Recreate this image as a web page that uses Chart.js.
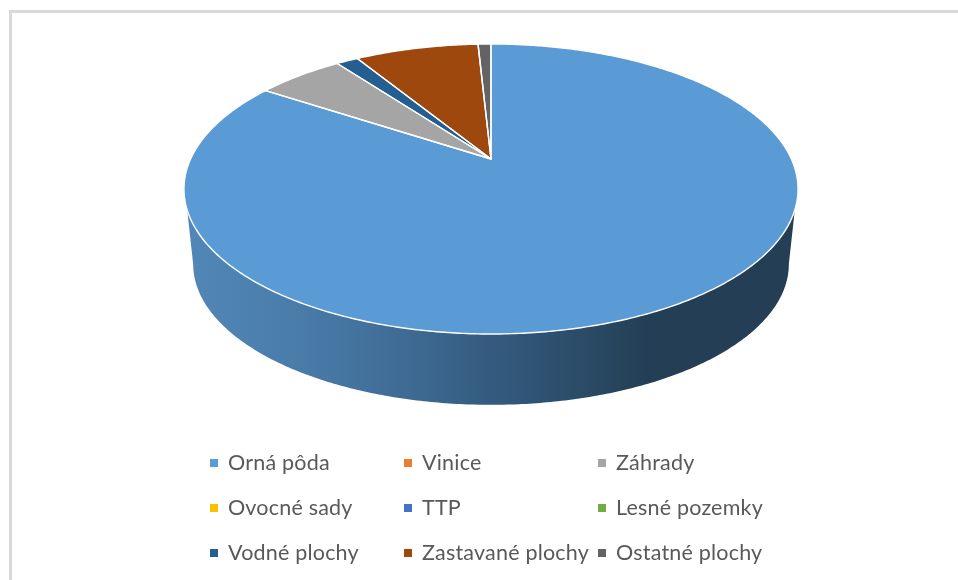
<!DOCTYPE html>
<html lang="sk">
<head>
<meta charset="utf-8">
<title>Štruktúra pozemkov</title>
<script src="https://cdn.jsdelivr.net/npm/chart.js@4"></script>
<style>
  html, body { margin: 0; padding: 0; background: #fff; overflow: hidden; }
  #stage { position: relative; width: 958px; height: 580px; }
  #stage canvas { position: absolute; left: 0; top: 0; }
  #frame { position: absolute; left: 9px; top: 10px; right: 0; bottom: 0;
           border-left: 3px solid #d9d9d9; border-top: 3px solid #d9d9d9; pointer-events: none; }
  #legend { filter: blur(0.4px); }
  .lg { position: absolute; font: 21.5px Lato, sans-serif; color: #595959; white-space: nowrap;
        line-height: 24px; letter-spacing: 0.2px; }
  .lg i { position: absolute; left: -18px; top: 9px; width: 8px; height: 8px; }
</style>
</head>
<body>
<div id="stage">
  <canvas id="c" width="958" height="580"></canvas>
  <div id="frame"></div>
  <div id="legend"></div>
</div>
<script>
const categories = ['Orná pôda', 'Vinice', 'Záhrady', 'Ovocné sady', 'TTP', 'Lesné pozemky', 'Vodné plochy', 'Zastavané plochy', 'Ostatné plochy'];
const shares = [84.25, 0, 5.57, 0, 0, 0, 1.41, 7.94, 0.83];
const colors = ['#5B9BD5', '#ED7D31', '#A5A5A5', '#FFC000', '#4472C4', '#70AD47', '#255E91', '#9E480E', '#636363'];
const legendX = [228, 422, 616];
const legendY = [462, 507, 552];

// perspective of the tilted disc: top face and bottom rim
const persp = -0.2069;
const topFace = { cx: 491, cy: 159, a: 300.4, b: 138.8 };
const bottomFace = { cx: 491, cy: 235, a: 291.4, b: 134.7 };

function project(face, u, v) {
  const w = 1 + persp * v;
  return [face.cx + face.a * u / w, face.cy + face.b * v / w];
}
function rimPath(ctx, face, from, to, move) {
  const n = Math.max(2, Math.ceil(Math.abs(to - from) / 0.01));
  for (let i = 0; i <= n; i++) {
    const t = from + (to - from) * i / n;
    const p = project(face, Math.cos(t), Math.sin(t));
    if (i === 0 && move) ctx.moveTo(p[0], p[1]); else ctx.lineTo(p[0], p[1]);
  }
}

const perspectivePie = {
  id: 'perspectivePie',
  beforeDatasetsDraw(chart) {
    const ctx = chart.ctx;
    const arcs = chart.getDatasetMeta(0).data;

    // side wall of the disc
    const g = ctx.createLinearGradient(186, 0, 796, 0);
    g.addColorStop(0, '#5187B8');
    g.addColorStop(0.18, '#4A7CAA');
    g.addColorStop(0.35, '#3F6C95');
    g.addColorStop(0.52, '#33597C');
    g.addColorStop(0.68, '#294862');
    g.addColorStop(0.76, '#233E55');
    g.addColorStop(1, '#233E55');
    ctx.save();
    ctx.beginPath();
    const aTop = Math.asin(0.3415), aBot = Math.asin(0.2069);
    rimPath(ctx, topFace, Math.PI - aTop, aTop, true);
    rimPath(ctx, bottomFace, aBot, Math.PI - aBot, false);
    ctx.closePath();
    ctx.fillStyle = g;
    ctx.fill();

    // top face slices, angles taken from the library's arc elements
    arcs.forEach((arc, i) => {
      if (arc.endAngle - arc.startAngle <= 0) return;
      ctx.beginPath();
      ctx.moveTo(topFace.cx, topFace.cy);
      rimPath(ctx, topFace, arc.startAngle, arc.endAngle, false);
      ctx.closePath();
      ctx.fillStyle = colors[i];
      ctx.fill();
    });
    arcs.forEach((arc) => {
      if (arc.endAngle - arc.startAngle <= 0) return;
      ctx.beginPath();
      ctx.moveTo(topFace.cx, topFace.cy);
      rimPath(ctx, topFace, arc.startAngle, arc.endAngle, false);
      ctx.closePath();
      ctx.strokeStyle = '#fff';
      ctx.lineWidth = 1.4;
      ctx.lineJoin = 'round';
      ctx.stroke();
    });
    ctx.restore();
    return false;
  }
};

new Chart(document.getElementById('c'), {
  type: 'pie',
  data: {
    labels: categories,
    datasets: [{ data: shares, backgroundColor: colors, borderColor: '#fff', borderWidth: 1 }]
  },
  options: {
    responsive: false,
    animation: false,
    events: [],
    plugins: { legend: { display: false }, tooltip: { enabled: false } }
  },
  plugins: [perspectivePie]
});

const legend = document.getElementById('legend');
categories.forEach((name, i) => {
  const el = document.createElement('div');
  el.className = 'lg';
  el.style.left = legendX[i % 3] + 'px';
  el.style.top = (legendY[Math.floor(i / 3)] - 12) + 'px';
  const sw = document.createElement('i');
  sw.style.background = colors[i];
  el.appendChild(sw);
  el.appendChild(document.createTextNode(name));
  legend.appendChild(el);
});
</script>
</body>
</html>
